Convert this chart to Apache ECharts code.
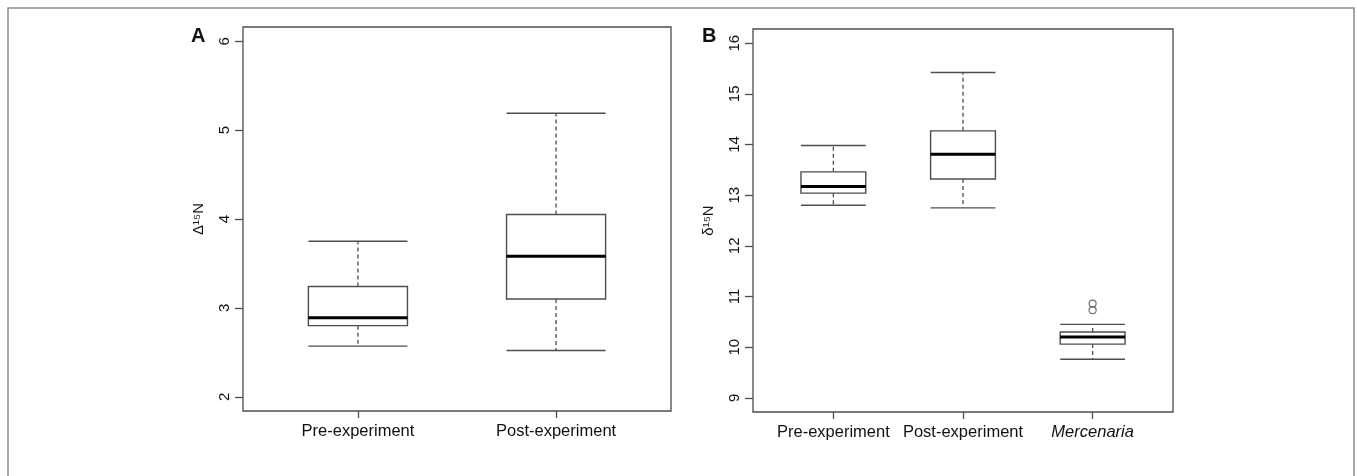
<!DOCTYPE html>
<html>
<head>
<meta charset="utf-8">
<script src="https://cdn.jsdelivr.net/npm/echarts@6/dist/echarts.min.js"></script>
<style>
html,body{margin:0;padding:0;background:#fff;}
#chart{width:1357px;height:476px;}
</style>
</head>
<body>
<div id="chart"></div>
<script>
// ---- data ----
const categoriesA = ['Pre-experiment', 'Post-experiment'];
const categoriesB = ['Pre-experiment', 'Post-experiment', 'Mercenaria'];
// [lower whisker, Q1, median, Q3, upper whisker]
const preA  = [2.57, 2.80, 2.89, 3.24, 3.75];
const postA = [2.52, 3.10, 3.58, 4.05, 5.19];
const preB  = [12.80, 13.04, 13.17, 13.46, 13.98];
const postB = [12.75, 13.32, 13.81, 14.27, 15.42];
const mercB = [9.76, 10.06, 10.20, 10.30, 10.45];
const mercOutliers = [10.73, 10.86];
const yTicksA = [2, 3, 4, 5, 6];
const yTicksB = [9, 10, 11, 12, 13, 14, 15, 16];

const FONT = 'Liberation Sans, Arial, Helvetica, sans-serif';
const LINE = '#4d4d4d';
const TEXT = '#111';

function rows(list) {
  return list.map((s, i) => [i + 1].concat(s));
}

function renderBox(params, api) {
  const x = api.value(0);
  const lo = api.value(1), q1 = api.value(2), med = api.value(3), q3 = api.value(4), hi = api.value(5);
  const hw = 0.25;
  const c = (xx, yy) => api.coord([xx, yy]);
  const tl = c(x - hw, q3), br = c(x + hw, q1);
  const lineStyle = {stroke: LINE, lineWidth: 1.4, fill: null};
  const dashStyle = {stroke: LINE, lineWidth: 1.3, lineDash: [4, 3], fill: null};
  const seg = (a, b, st) => ({type: 'line', shape: {x1: a[0], y1: a[1], x2: b[0], y2: b[1]}, style: st});
  return {
    type: 'group',
    children: [
      seg(c(x, q3), c(x, hi), dashStyle),
      seg(c(x, q1), c(x, lo), dashStyle),
      seg(c(x - hw, hi), c(x + hw, hi), lineStyle),
      seg(c(x - hw, lo), c(x + hw, lo), lineStyle),
      {type: 'rect', shape: {x: tl[0], y: tl[1], width: br[0] - tl[0], height: br[1] - tl[1]},
       style: {stroke: LINE, lineWidth: 1.4, fill: '#fff'}},
      seg(c(x - hw, med), c(x + hw, med), {stroke: '#000', lineWidth: 3})
    ]
  };
}

function xAxisFor(idx, cats, min, max) {
  const vals = cats.map((_, i) => i + 1);
  return {
    type: 'value', gridIndex: idx, min: min, max: max,
    axisLine: {show: false},
    splitLine: {show: false},
    axisTick: {show: true, length: 7, customValues: vals, lineStyle: {color: LINE, width: 1.3}},
    axisLabel: {
      customValues: vals, margin: 12, fontSize: 16.5, color: TEXT, fontFamily: FONT,
      formatter: v => {
        const name = cats[Math.round(v) - 1] || '';
        return name === 'Mercenaria' ? '{it|' + name + '}' : name;
      },
      rich: {it: {fontStyle: 'italic', fontSize: 16.5, color: TEXT, fontFamily: FONT}}
    }
  };
}

function yAxisFor(idx, ticks, min, max, name) {
  return {
    type: 'value', gridIndex: idx, min: min, max: max,
    name: name, nameLocation: 'middle', nameRotate: 90, nameGap: 37,
    nameTextStyle: {fontSize: 15, color: TEXT, fontFamily: FONT},
    axisLine: {show: false},
    splitLine: {show: false},
    axisTick: {show: true, length: 8, customValues: ticks, lineStyle: {color: LINE, width: 1.3}},
    axisLabel: {customValues: ticks, rotate: 90, margin: 11, fontSize: 15, color: TEXT, fontFamily: FONT}
  };
}

const chart = echarts.init(document.getElementById('chart'), null, {renderer: 'canvas'});
chart.setOption({
  backgroundColor: '#fff',
  animation: false,
  title: [
    {text: 'A', left: 191, top: 26, padding: 0, textStyle: {fontSize: 20, fontWeight: 'bold', color: '#111', fontFamily: FONT}},
    {text: 'B', left: 702, top: 26, padding: 0, textStyle: {fontSize: 20, fontWeight: 'bold', color: '#111', fontFamily: FONT}}
  ],
  graphic: [
    {type: 'rect', z: -10, silent: true,
     shape: {x: 8, y: 8, width: 1346, height: 520},
     style: {fill: null, stroke: '#8a8a8a', lineWidth: 1.5}}
  ],
  grid: [
    {left: 243, top: 27, width: 428, height: 384, show: true, borderColor: LINE, borderWidth: 1.3, backgroundColor: 'transparent'},
    {left: 753, top: 29, width: 420, height: 383, show: true, borderColor: LINE, borderWidth: 1.3, backgroundColor: 'transparent'}
  ],
  xAxis: [
    xAxisFor(0, categoriesA, 0.42, 2.58),
    xAxisFor(1, categoriesB, 0.38, 3.62)
  ],
  yAxis: [
    yAxisFor(0, yTicksA, 1.84, 6.16, 'Δ¹⁵N'),
    yAxisFor(1, yTicksB, 8.72, 16.28, 'δ¹⁵N')
  ],
  series: [
    {type: 'custom', xAxisIndex: 0, yAxisIndex: 0, renderItem: renderBox,
     encode: {x: 0, y: [1, 2, 3, 4, 5]}, data: rows([preA, postA])},
    {type: 'custom', xAxisIndex: 1, yAxisIndex: 1, renderItem: renderBox,
     encode: {x: 0, y: [1, 2, 3, 4, 5]}, data: rows([preB, postB, mercB])},
    {type: 'scatter', xAxisIndex: 1, yAxisIndex: 1, symbol: 'circle', symbolSize: 7,
     itemStyle: {color: 'transparent', borderColor: LINE, borderWidth: 1.2},
     data: mercOutliers.map(v => [3, v])}
  ]
});
</script>
</body>
</html>
